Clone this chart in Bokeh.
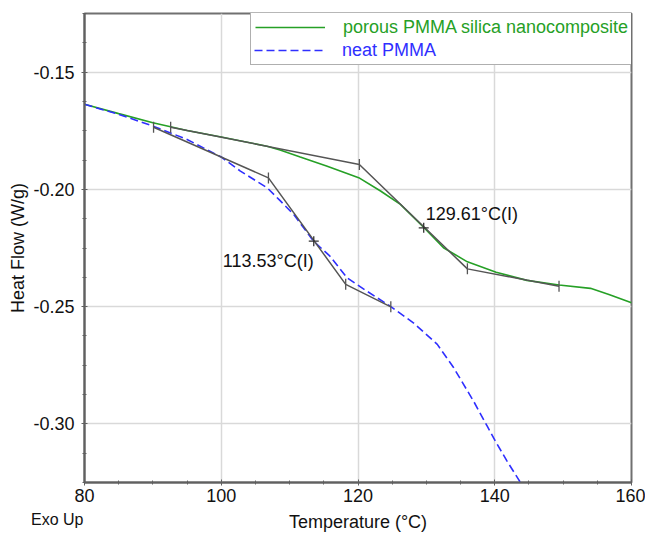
import numpy as np
from bokeh.plotting import figure
from bokeh.layouts import column
from bokeh.models import FixedTicker, Legend, LegendItem, Label, Range1d
from bokeh.embed import file_html
from bokeh.resources import INLINE

# ---------------- data ----------------
temp_composite = [80, 85, 90, 95, 100, 106.7, 108.6, 111.55, 115.5, 120.1, 123.3,
                  126.2, 129.7, 132.5, 136.0, 140.2, 144.7, 149.4, 154.0, 156.7, 160]
heat_composite = [-0.1637, -0.1677, -0.1716, -0.1749, -0.1777, -0.1816, -0.1832, -0.1862,
                  -0.1901, -0.1950, -0.2007, -0.2064, -0.2164, -0.2249, -0.2309, -0.2353,
                  -0.2388, -0.2408, -0.2422, -0.2448, -0.2484]

temp_neat = [80, 85, 90, 95, 100, 102.8, 106.7, 108.5, 110.6, 113.5, 115.9, 118.4,
             121.3, 124.7, 128.1, 131.6, 134.0, 136.9, 138.9, 140.1, 141.8, 143.8, 144.5]
heat_neat = [-0.1637, -0.1680, -0.1730, -0.1787, -0.1862, -0.1922, -0.1993, -0.2045,
             -0.2107, -0.2221, -0.2285, -0.2377, -0.2434, -0.2498, -0.2569, -0.2661,
             -0.2761, -0.2903, -0.3010, -0.3074, -0.3159, -0.3252, -0.3290]

# glass-transition tangent constructions
composite_tangent_T = [92.6, 120.2, 136.0, 149.4]
composite_tangent_H = [-0.1735, -0.1894, -0.2339, -0.2413]
neat_tangent_T = [90.1, 106.9, 118.2, 124.8]
neat_tangent_H = [-0.1735, -0.1951, -0.2405, -0.2501]

# inflection (Tg) points: [neat, composite]
tg_T = [113.53, 129.61]
tg_H = [-0.2221, -0.2164]

x_ticks = [80, 100, 120, 140, 160]
x_minor = list(range(80, 161, 5))
y_ticks = [-0.30, -0.25, -0.20, -0.15]
y_minor = [round(-0.325 + 0.0125 * i, 4) for i in range(17)]

series_names = ["porous PMMA silica nanocomposite", "neat PMMA"]
x_title = "Temperature (°C)"
y_title = "Heat Flow (W/g)"
corner_note = "Exo Up"

# ---------------- styling ----------------
GREEN = "#26a026"
BLUE = "#2f2fff"
DARK = "#555555"
TEXT = "#111111"
FONT = "Liberation Sans"
FS = "18px"
W = 645

p = figure(width=W, height=509, x_range=Range1d(80, 160), y_range=Range1d(-0.325, -0.125),
           output_backend="svg", toolbar_location=None,
           min_border_left=84, min_border_right=14, min_border_top=13, min_border_bottom=27)

p.outline_line_color = "#707070"
p.outline_line_width = 2
p.background_fill_color = "white"
p.border_fill_color = "white"

for ax in (p.xaxis[0], p.yaxis[0]):
    ax.axis_line_color = "#606060"
    ax.axis_line_width = 2
    ax.major_tick_line_color = "#606060"
    ax.minor_tick_line_color = "#606060"
    ax.major_tick_in = 3
    ax.major_tick_out = 3
    ax.minor_tick_in = 2
    ax.minor_tick_out = 2
    ax.major_label_text_font = FONT
    ax.major_label_text_font_size = FS
    ax.major_label_text_color = TEXT

p.xaxis.ticker = FixedTicker(ticks=x_ticks, minor_ticks=x_minor)
p.xaxis.major_label_standoff = 3
p.xaxis.major_label_overrides = {t: str(t) for t in x_ticks}

p.yaxis.ticker = FixedTicker(ticks=y_ticks, minor_ticks=y_minor)
p.yaxis.major_label_standoff = 7
p.yaxis.major_label_overrides = {t: f"{t:.2f}" for t in y_ticks}
p.yaxis.axis_label = y_title
p.yaxis.axis_label_text_font = FONT
p.yaxis.axis_label_text_font_size = FS
p.yaxis.axis_label_text_font_style = "normal"
p.yaxis.axis_label_text_color = TEXT
p.yaxis.axis_label_standoff = 2

p.grid.grid_line_color = "#d9d9d9"
p.grid.grid_line_width = 1.5

# ---------------- curves ----------------
g = p.line(temp_composite, heat_composite, line_color=GREEN, line_width=1.6)
b = p.line(temp_neat, heat_neat, line_color=BLUE, line_width=1.6, line_dash="8 4")

# tangent constructions
for tx, ty in ((composite_tangent_T, composite_tangent_H), (neat_tangent_T, neat_tangent_H)):
    p.line(tx, ty, line_color=DARK, line_width=1.5)
    p.scatter(tx, ty, marker="dash", angle=np.pi / 2, size=11,
              line_color=DARK, line_width=1.3)

p.scatter(tg_T, tg_H, marker="cross", size=10, line_color="#333333", line_width=1.3)

# Tg labels
p.add_layout(Label(x=tg_T[1], y=tg_H[1], text=f"{tg_T[1]:.2f}°C(I)", x_offset=2, y_offset=14,
                   text_align="left", text_baseline="middle", text_font=FONT,
                   text_font_size=FS, text_color=TEXT))
p.add_layout(Label(x=tg_T[0], y=tg_H[0], text=f"{tg_T[0]:.2f}°C(I)", x_offset=0, y_offset=-20,
                   text_align="right", text_baseline="middle", text_font=FONT,
                   text_font_size=FS, text_color=TEXT))

# ---------------- legend ----------------
frame_w, frame_h = 547, 469
pad, gw, gh, stand, lw = 4, 70, 22, 18, 285
leg_w = 2 * pad + gw + stand + lw
leg_h = 2 * pad + 2 * gh

def make_legend(items, color):
    lg = Legend(items=items, location=(frame_w - leg_w, frame_h - leg_h))
    lg.padding = pad
    lg.spacing = 0
    lg.margin = 0
    lg.glyph_width = gw
    lg.glyph_height = gh
    lg.label_height = gh
    lg.label_standoff = stand
    lg.label_width = lw
    lg.label_text_font = FONT
    lg.label_text_font_size = FS
    lg.label_text_color = color
    return lg

leg1 = make_legend([LegendItem(label=series_names[0], renderers=[g]),
                    LegendItem(label=" ", renderers=[])], GREEN)
leg1.border_line_color = "#606060"
leg1.border_line_width = 1.5
leg1.background_fill_color = "white"
leg1.background_fill_alpha = 1.0

leg2 = make_legend([LegendItem(label=" ", renderers=[]),
                    LegendItem(label=series_names[1], renderers=[b])], BLUE)
leg2.border_line_alpha = 0
leg2.background_fill_alpha = 0

p.add_layout(leg1)
p.add_layout(leg2)

# ---------------- bottom strip: x-axis title and the "Exo Up" note ----------------
# (its frame is aligned with the main frame by the column layout)
q = figure(width=W, height=26, x_range=Range1d(80, 160), y_range=Range1d(0, 26),
           output_backend="svg", toolbar_location=None, min_border=0, x_axis_type=None)
q.outline_line_color = None
q.grid.visible = False
q.background_fill_color = "white"
q.border_fill_color = "white"
q.yaxis.ticker = FixedTicker(ticks=[16], minor_ticks=[])
q.yaxis.major_label_overrides = {16: corner_note}
q.yaxis.axis_line_color = None
q.yaxis.major_tick_line_color = None
q.yaxis.minor_tick_line_color = None
q.yaxis.major_tick_out = 0
q.yaxis.major_tick_in = 0
q.yaxis.major_label_standoff = 1
q.yaxis.major_label_text_font = FONT
q.yaxis.major_label_text_font_size = "16px"
q.yaxis.major_label_text_color = TEXT
q.add_layout(Label(x=120, y=14, text=x_title, text_align="center", text_baseline="middle",
                   text_font=FONT, text_font_size=FS, text_color=TEXT))

layout = column(p, q, spacing=0)
open("out.html", "w").write(file_html(layout, INLINE))
